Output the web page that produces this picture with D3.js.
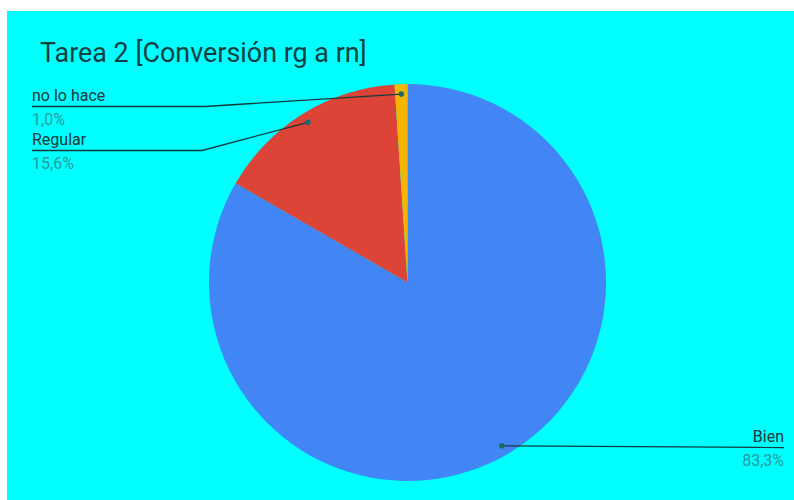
<!DOCTYPE html>
<html><head><meta charset="utf-8">
<script src="https://cdn.jsdelivr.net/npm/d3@7"></script>
<style>body{margin:0;background:#fff;}svg{display:block;font-family:Roboto,"Noto Sans",sans-serif;}</style>
</head><body>
<script>
const title = "Tarea 2 [Conversión rg a rn]";
const categories = ["Bien", "Regular", "no lo hace"];
const counts = [80, 15, 1];
const percentLabels = ["83,3%", "15,6%", "1,0%"];
const colors = ["#4285F4", "#DB4437", "#F4B400"];

const W = 794, H = 500;
const svg = d3.select("body").append("svg").attr("width", W).attr("height", H);
svg.append("rect").attr("x", 7).attr("y", 11).attr("width", W - 7).attr("height", H - 11).attr("fill", "#00FFFF");

svg.append("text").attr("x", 40).attr("y", 62).attr("font-size", 26.9).attr("fill", "#123f3f").text(title);

const cx = 407.5, cy = 282.5, r = 198.5;
const g = svg.append("g").attr("transform", `translate(${cx},${cy})`);
const pie = d3.pie().sort(null).value(d => d);
const arcs = pie(counts);
const arc = d3.arc().innerRadius(0).outerRadius(r);
const color = d3.scaleOrdinal().domain(categories).range(colors);

g.selectAll("path").data(arcs).join("path")
  .attr("d", arc).attr("fill", (d, i) => color(categories[i]))
  .attr("stroke", "none");

const labelLayout = [
  {side: "right", y: 447.5, x: 784},
  {side: "left", y: 150.5, x: 32, elbow: 202},
  {side: "left", y: 106.5, x: 32, elbow: 205}
];
const dotR = r * 0.95;
arcs.forEach((a, i) => {
  const mid = (a.startAngle + a.endAngle) / 2;
  const px = cx + dotR * Math.sin(mid), py = cy - dotR * Math.cos(mid);
  const L = labelLayout[i];
  let pts;
  if (L.side === "right") pts = [[px, py], [L.x, L.y]];
  else pts = [[px, py], [L.elbow, L.y], [L.x, L.y]];
  svg.append("path").attr("d", d3.line()(pts)).attr("fill", "none").attr("stroke", "#163a3a").attr("stroke-width", 1.3);
  svg.append("circle").attr("cx", px).attr("cy", py).attr("r", 2.8).attr("fill", "#1a6a6a");
  const anchor = L.side === "right" ? "end" : "start";
  svg.append("text").attr("x", L.x).attr("y", L.y - 6).attr("text-anchor", anchor)
    .attr("font-size", 16).attr("fill", "#173838").text(categories[i]);
  svg.append("text").attr("x", L.x).attr("y", L.y + 18).attr("text-anchor", anchor)
    .attr("font-size", 16).attr("fill", "#2a9a9a").text(percentLabels[i]);
});
</script>
</body></html>
